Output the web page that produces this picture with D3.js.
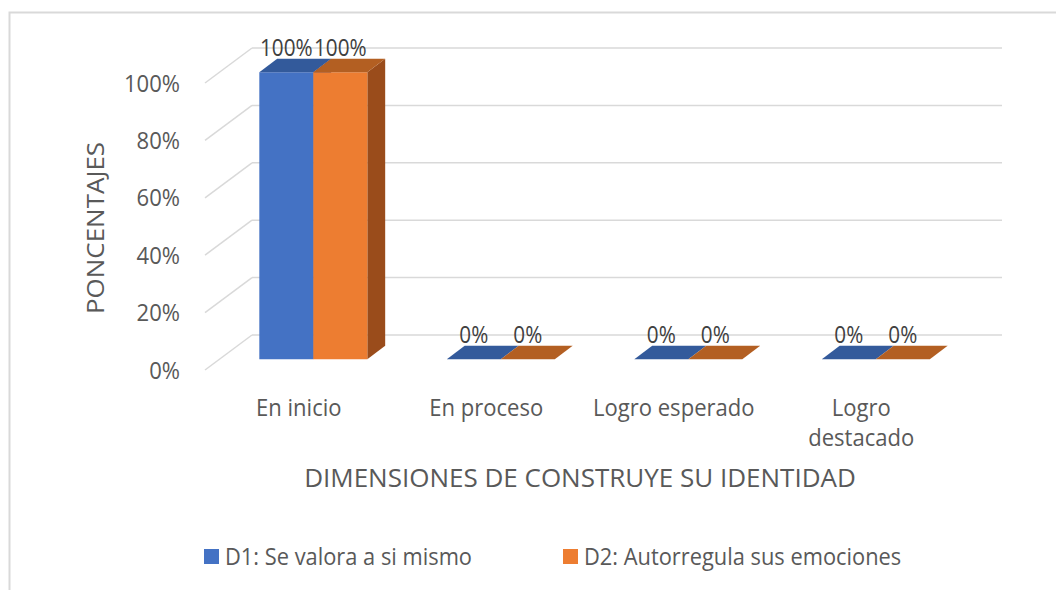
<!DOCTYPE html><html><meta charset="UTF-8">
<title>Dimensiones</title>
<style>
  body { margin: 0; background: #fff; overflow: hidden; }
  text { font-family: "Open Sans", "Noto Sans", sans-serif; fill: #595959; }
  .grid { stroke: #d9d9d9; stroke-width: 1.5; }
</style>
<script src="https://cdn.jsdelivr.net/npm/d3@7"></script>
<svg width="1056" height="590"></svg>
<script>

var categories = ["En inicio", "En proceso", "Logro esperado", "Logro destacado"],
    d1 = [1, 0, 0, 0],
    d2 = [1, 0, 0, 0],
    seriesNames = ["D1: Se valora a si mismo", "D2: Autorregula sus emociones"],
    yTicks = [0, 0.2, 0.4, 0.6, 0.8, 1];

var series = [
  {name: seriesNames[0], values: d1, front: "#4472c4", top: "#335a9b", side: "#2f5291"},
  {name: seriesNames[1], values: d2, front: "#ed7d31", top: "#b35f22", side: "#9a4c1b"}
];

var svg = d3.select("svg");

// depth offset of the back wall
var DX = 47, DY = -35,
    z0 = 0.31, z1 = 0.69;

var x = d3.scaleBand().domain(categories).range([205, 955]),
    xs = d3.scaleBand().domain([0, 1]).range([-54, 54]),
    y = d3.scaleLinear().domain([0, 1]).range([370, 83]);

function P(px, py, z) { return [px + z * DX, py + z * DY]; }

function label(g, tx, ty, str, size, anchor, sx, rot) {
  return g.append("text")
    .attr("transform", "translate(" + tx + "," + ty + ") scale(" + (sx || 1) + ",1)" + (rot ? " rotate(" + rot + ")" : ""))
    .attr("text-anchor", anchor || "middle")
    .style("font-size", size + "px")
    .text(str);
}

// chart border
svg.append("rect").attr("x", 9.5).attr("y", 12.5).attr("width", 1100).attr("height", 700)
  .attr("fill", "none").attr("stroke", "#d9d9d9").attr("stroke-width", 2);

// walls
var walls = svg.append("g");
yTicks.forEach(function(t) {
  var a = P(x.range()[0], y(t), 0), b = P(x.range()[0], y(t), 1), c = P(x.range()[1], y(t), 1);
  walls.append("line").attr("class", "grid").attr("x1", a[0]).attr("y1", a[1]).attr("x2", b[0]).attr("y2", b[1]);
  walls.append("line").attr("class", "grid").attr("x1", b[0]).attr("y1", b[1]).attr("x2", c[0]).attr("y2", c[1]);
});

// y tick labels
var axis = svg.append("g");
yTicks.forEach(function(t) {
  label(axis, 180, y(t) + 8.5, d3.format(".0%")(t), 24, "end", 0.92);
});

// bars
var bars = svg.append("g");
categories.forEach(function(c, i) {
  series.forEach(function(s, j) {
    var v = s.values[i],
        xl = x(c) + x.bandwidth() / 2 + xs(j),
        xr = xl + xs.bandwidth(),
        yt = y(v), yb = y(0);
    var f = [P(xl, yt, z0), P(xr, yt, z0), P(xr, yb, z0), P(xl, yb, z0)],
        top = [P(xl, yt, z0), P(xr, yt, z0), P(xr, yt, z1), P(xl, yt, z1)],
        side = [P(xr, yt, z0), P(xr, yt, z1), P(xr, yb, z1), P(xr, yb, z0)];
    if (v > 0) {
      bars.append("polygon").attr("points", side.join(" ")).attr("fill", s.side);
      bars.append("polygon").attr("points", f.join(" ")).attr("fill", s.front);
    }
    bars.append("polygon").attr("points", top.join(" ")).attr("fill", s.top);
  });
});

// data labels
var labels = svg.append("g");
categories.forEach(function(c, i) {
  series.forEach(function(s, j) {
    var v = s.values[i],
        p = P(x(c) + x.bandwidth() / 2 + xs(j) + xs.bandwidth() / 2, y(v), z0);
    label(labels, p[0], p[1] - 16, d3.format(".0%")(v), 23, "middle", 0.9).style("fill", "#404040");
  });
});

// category labels, wrapped like the original
var cats = svg.append("g");
categories.forEach(function(c) {
  var t = label(cats, x(c) + x.bandwidth() / 2, 416, c, 24, "middle", 0.92);
  if (t.node().getComputedTextLength() * 0.92 > 166) {
    var words = c.split(" ");
    t.text(null);
    words.forEach(function(w, k) {
      t.append("tspan").attr("x", 0).attr("dy", k ? 30 : 0).text(w);
    });
  }
});

// axis titles
label(svg, 580, 487, "DIMENSIONES DE CONSTRUYE SU IDENTIDAD", 26);
label(svg, 104, 228, "PONCENTAJES", 26, "middle", 0.9, -90);

// legend
var legend = svg.append("g");
var lx = [204, 563];
series.forEach(function(s, j) {
  legend.append("rect").attr("x", lx[j]).attr("y", 549).attr("width", 15).attr("height", 15).attr("fill", s.front);
  label(legend, lx[j] + 21, 565, s.name, 23, "start", 0.95);
});

</script>
</html>
